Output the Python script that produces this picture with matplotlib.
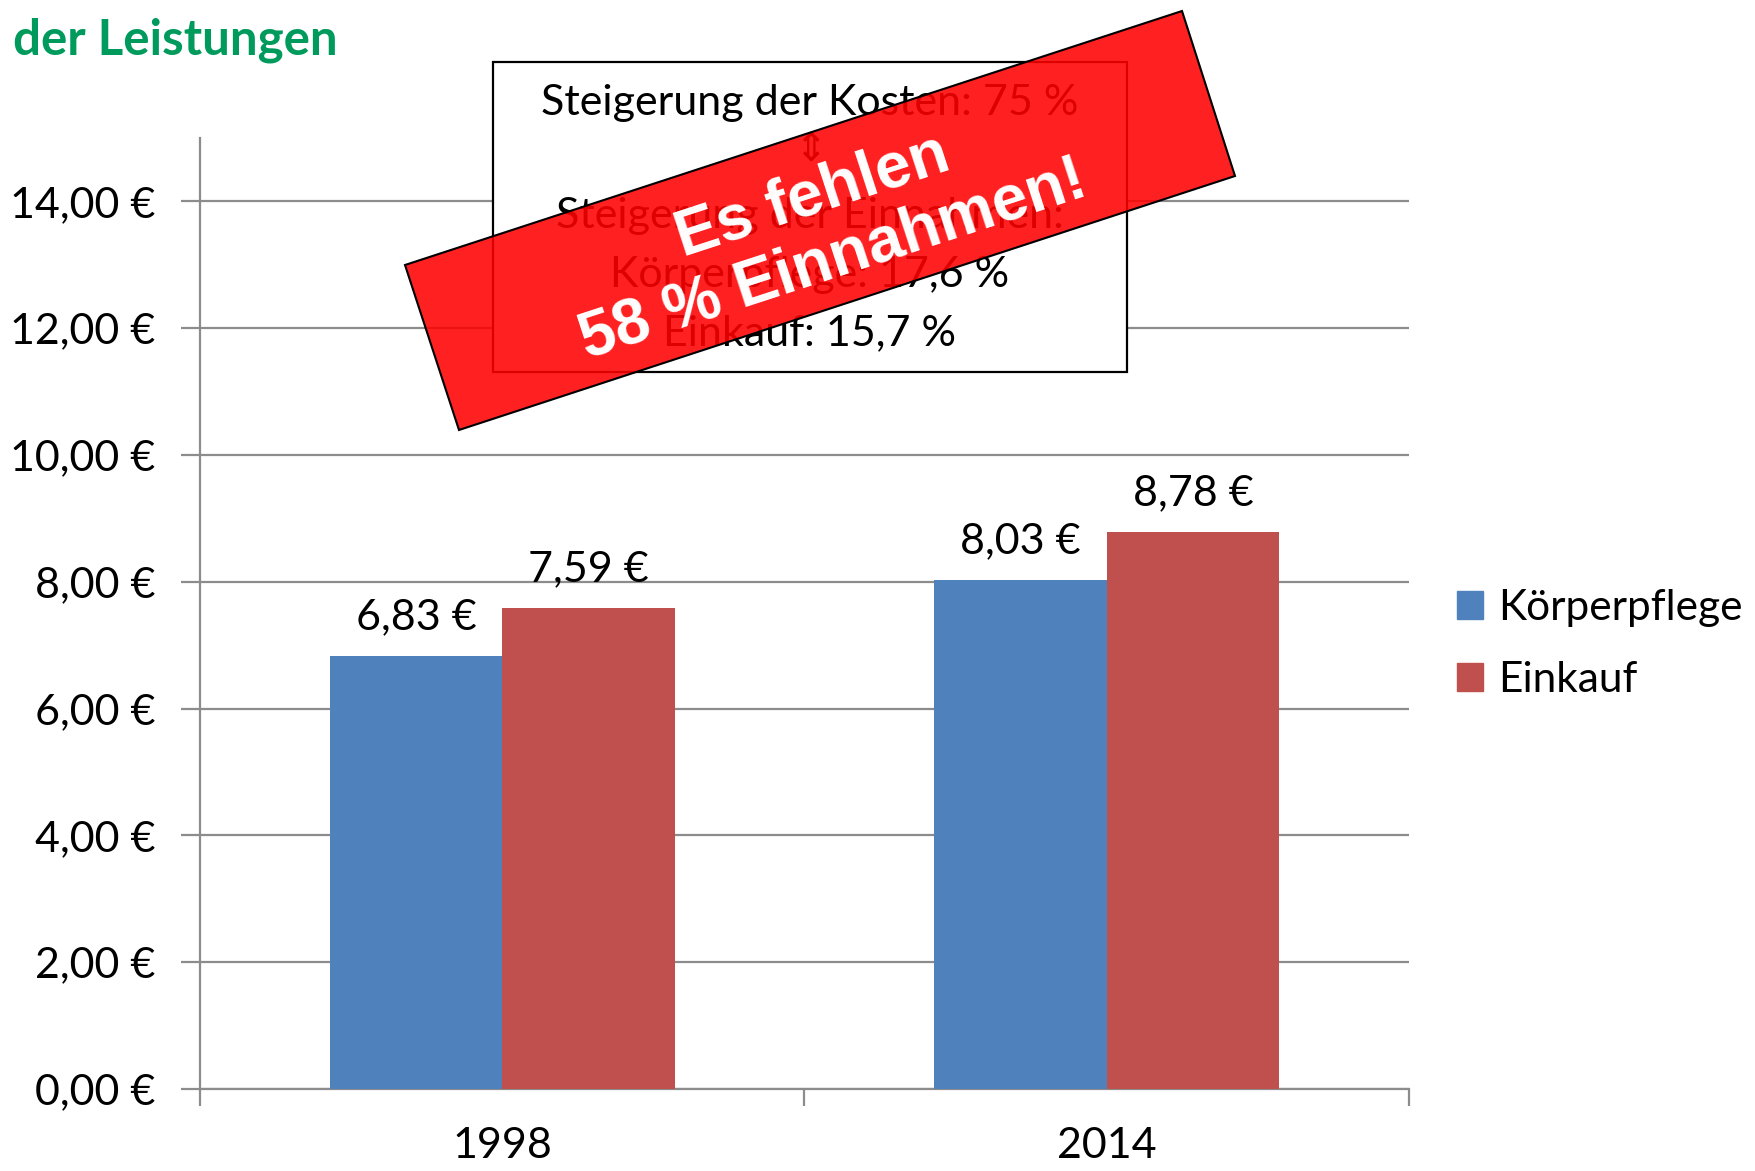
import matplotlib
matplotlib.use("Agg")
import matplotlib.pyplot as plt
import numpy as np
from matplotlib.patches import Polygon, Rectangle

plt.rcParams['font.family'] = ['Lato', 'DejaVu Sans']

years = ['1998', '2014']
series_names = ['Körperpflege', 'Einkauf']
koerperpflege = [6.83, 8.03]
einkauf = [7.59, 8.78]
value_labels_k = ['6,83 €', '8,03 €']
value_labels_e = ['7,59 €', '8,78 €']
yticks = [0, 2, 4, 6, 8, 10, 12, 14]
ytick_labels = ['0,00 €', '2,00 €', '4,00 €', '6,00 €', '8,00 €', '10,00 €', '12,00 €', '14,00 €']
colors = ['#4F81BD', '#C0504D']

FS = 31
W, H = 1756, 1171
fig = plt.figure(figsize=(W / 100, H / 100), dpi=100)
ax = fig.add_axes([200 / W, 82 / H, 1209 / W, 951 / H])

x = np.arange(len(years))
bw = 0.285
b1 = ax.bar(x - bw / 2, koerperpflege, bw, color=colors[0], label=series_names[0], zorder=3)
b2 = ax.bar(x + bw / 2, einkauf, bw, color=colors[1], label=series_names[1], zorder=3)

for bars, labs in ((b1, value_labels_k), (b2, value_labels_e)):
    for r, lab in zip(bars, labs):
        ax.annotate(lab, (r.get_x() + r.get_width() / 2, r.get_height()),
                    xytext=(0, 28), textcoords='offset points', ha='center', va='center',
                    fontsize=FS, color='black')

ax.set_xlim(-0.5, 1.5)
ax.set_ylim(0, 15)
ax.set_yticks(yticks)
ax.set_yticklabels(ytick_labels, fontsize=FS)
ax.yaxis.grid(True, color='#8C8C8C', linewidth=1.6, zorder=0)
ax.set_axisbelow(True)

ax.set_xticks([-0.5, 0.5, 1.5])
ax.set_xticklabels(['', '', ''])
ax.set_xticks(x, minor=True)
ax.set_xticklabels(years, minor=True, fontsize=FS)
ax.tick_params(axis='x', which='minor', length=0, pad=27)
ax.tick_params(axis='x', which='major', length=12, width=1.6, color='#8C8C8C', direction='out')
ax.tick_params(axis='y', length=14, width=1.6, color='#8C8C8C', direction='out', pad=18)

for s in ['top', 'right']:
    ax.spines[s].set_visible(False)
for s in ['left', 'bottom']:
    ax.spines[s].set_color('#8C8C8C')
    ax.spines[s].set_linewidth(1.6)

handles = [Rectangle((0, 0), 1, 1, color=c) for c in colors]
fig.legend(handles, series_names, loc='center left', bbox_to_anchor=(1457 / W, 1 - 644 / H),
           frameon=False, fontsize=30.5, handlelength=0.62, handleheight=0.62,
           handletextpad=0.35, labelspacing=0.8, borderpad=0, borderaxespad=0)

# title (second line visible)
fig.text(13 / W, 1 - 40 / H, 'der Leistungen', color='#009B5C', fontsize=35.5,
         fontweight='bold', ha='left', va='center')

# info box
fig.patches.append(Rectangle((493 / W, 1 - 372 / H), 634 / W, 310 / H, transform=fig.transFigure,
                             facecolor='white', edgecolor='black', linewidth=1.6, zorder=5))
cx = 810 / W
fig.text(cx, 1 - 103 / H, 'Steigerung der Kosten: 75 %', fontsize=FS, ha='center', va='center', zorder=6)
fig.text(cx, 1 - 150 / H, '⇕', fontsize=28, ha='center', va='center', zorder=6,
         family='DejaVu Sans', color='black')
fig.text(cx, 1 - 216 / H, 'Steigerung der Einnahmen:', fontsize=FS, ha='center', va='center', zorder=6)
fig.text(cx, 1 - 275 / H, 'Körperpflege: 17,6 %', fontsize=FS, ha='center', va='center', zorder=6)
fig.text(cx, 1 - 333 / H, 'Einkauf: 15,7 %', fontsize=FS, ha='center', va='center', zorder=6)

# red banner
corners = [(405, 265), (1182, 11), (1235, 176), (459, 430)]
poly = Polygon([(px / W, 1 - py / H) for px, py in corners], closed=True, transform=fig.transFigure,
               facecolor=(1, 0, 0, 0.87), edgecolor='black', linewidth=1.5, zorder=7)
fig.patches.append(poly)
fig.text(823 / W, 1 - 228 / H, 'Es fehlen\n58 % Einnahmen!', fontsize=46, fontweight='bold',
         color='white', ha='center', va='center', rotation=18.1, rotation_mode='anchor',
         family=['Liberation Sans', 'DejaVu Sans'], linespacing=1.15, zorder=8)

fig.savefig('out.png', dpi=100)
